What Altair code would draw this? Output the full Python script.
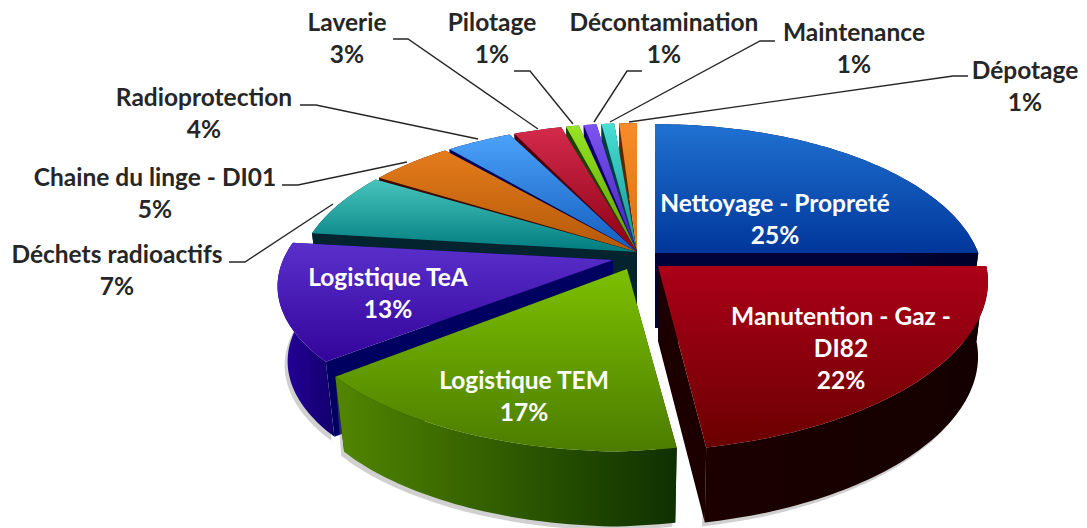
import math
import altair as alt
import pandas as pd

# ---- chart values ----
categories = ["Nettoyage - Propreté", "Manutention - Gaz - DI82", "Logistique TEM", "Logistique TeA",
              "Déchets radioactifs", "Chaine du linge - DI01", "Radioprotection", "Laverie",
              "Pilotage", "Décontamination", "Maintenance", "Dépotage"]
shares = [25, 22, 17, 13, 7, 5, 4, 3, 1, 1, 1, 1]

# ---- styling / layout ----
label_lines = [["Nettoyage - Propreté"], ["Manutention - Gaz -", "DI82"], ["Logistique TEM"], ["Logistique TeA"],
               ["Déchets radioactifs"], ["Chaine du linge - DI01"], ["Radioprotection"], ["Laverie"],
               ["Pilotage"], ["Décontamination"], ["Maintenance"], ["Dépotage"]]
label_pos = [(775, 205), (841, 318), (524, 382), (388, 279), (117, 256), (155, 179), (204, 99), (347, 24),
             (492, 24), (664, 24), (854, 34), (1025, 72)]
label_col = ["white"] * 4 + ["#262626"] * 8
top_cols = [("#1F72D2", "#00369A"), ("#AC0018", "#6A0000"), ("#7CC000", "#4C7C00"), ("#5A30CC", "#32049A"),
            ("#48C4BC", "#007C80"), ("#E47C1C", "#B45808"), ("#4CA2FA", "#125CBC"), ("#D42A4C", "#8C0014"),
            ("#96E424", "#5C9C00"), ("#7C54F4", "#4020B0"), ("#48E0D4", "#108C90"), ("#F88C28", "#D87010")]
wall_cols = [("#00033C", "#00022C"), ("#1C0000", "#140000"), ("#528600", "#0E3000"), ("#26009E", "#12006C"),
             ("#03242E", "#03242E"), ("#3C0A00", "#3C0A00"), ("#00005E", "#00005E"), ("#4C0008", "#4C0008"),
             ("#1C4000", "#1C4000"), ("#10006A", "#10006A"), ("#003C40", "#003C40"), ("#5A2800", "#5A2800")]
cut_cols = ["#00023A", "#1C0000", "#0E3000", "#000060", "#03242E", "#3C0A00", "#00005E", "#4C0008",
            "#1C4000", "#10006A", "#003C40", "#5A2800"]
# slice centre (x, y), width scale, height scale, end-angle trim in degrees
geom = [(655, 253, .965, 1, 0), (658, 266, .98, 1, 0), (627, 269, 1, .985, 0), (613, 260, .985, .93, 0)] + \
       [(637, 252, 1, 1, 1.0)] * 7 + [(637, 252, 1, 1, 0)]
leaders = [None, None, None, None,
           [(229, 262), (245, 262), (333, 204)], [(282, 185), (298, 185), (407, 162)],
           [(300, 105), (316, 105), (478, 139)], [(393, 39), (408, 39), (538, 129)],
           [(514, 71), (530, 71), (573, 124)], [(642, 71), (627, 71), (594, 122)],
           [(775, 41), (760, 41), (610, 122)], [(968, 76), (953, 76), (629, 122)]]
A, B, P, SKEW, DEPTH, SHRINK = 335, 152, .18, 27, 75, .97

X = alt.X("x:Q", axis=None, scale=alt.Scale(domain=[8, 1079], nice=False, zero=False))
Y = alt.Y("y:Q", axis=None, scale=alt.Scale(domain=[528, 8], nice=False, zero=False))


def project(deg, cx, cy, k, ky):
    u, v = math.sin(math.radians(deg)), math.cos(math.radians(deg))
    w = 1 + P * v
    skew = SKEW * min(v, 0) if u > 0 else 0
    return (cx + k * A * u / w + skew, cy - ky * B * v / w)


def lower(pt, cx):
    return (cx + SHRINK * (pt[0] - cx), pt[1] + DEPTH)


def grad(pair, horizontal=False):
    return alt.Gradient(gradient="linear",
                        stops=[alt.GradientStop(color=pair[0], offset=0), alt.GradientStop(color=pair[1], offset=1)],
                        x1=0, y1=0, x2=1 if horizontal else 0, y2=0 if horizontal else 1)


def polygon(points, fill, opacity=1):
    df = pd.DataFrame({"x": [p[0] for p in points], "y": [p[1] for p in points], "o": range(len(points))})
    return alt.Chart(df).mark_line(fill=fill, stroke=None, strokeWidth=0, clip=True, opacity=opacity).encode(
        x=X, y=Y, order=alt.Order("o:Q"))


cum = [sum(shares[:i]) for i in range(len(shares))]
layers = []
for i in [11, 10, 9, 8, 7, 6, 5, 4, 3, 0, 1, 2]:
    cx, cy, k, ky, trim = geom[i]
    a0 = cum[i] * 3.6
    a1 = (cum[i] + shares[i]) * 3.6 - trim
    n = max(6, int(shares[i] * 3))
    arc = [project(a0 + (a1 - a0) * j / n, cx, cy, k, ky) for j in range(n + 1)]
    apex = (cx, cy)
    low = [lower(p, cx) for p in arc]
    if i in (1, 2, 3):
        layers.append(polygon(arc + [(p[0] - 3, p[1] + 4) for p in low[::-1]], "#777777", .35))
    for e, le in ((arc[-1], low[-1]), (arc[0], low[0])):
        layers.append(polygon([apex, e, le, lower(apex, cx)], cut_cols[i]))
    layers.append(polygon(arc + low[::-1], grad(wall_cols[i], horizontal=True)))
    layers.append(polygon([apex] + arc, grad(top_cols[i])))

# leader lines
for pts in leaders:
    if pts:
        df = pd.DataFrame({"x": [p[0] for p in pts], "y": [p[1] for p in pts], "o": range(len(pts))})
        layers.append(alt.Chart(df).mark_line(color="#262626", strokeWidth=1.4).encode(
            x=X, y=Y, order=alt.Order("o:Q")))

# labels
rows = []
for i, lines in enumerate(label_lines):
    x0, y0 = label_pos[i]
    for j, t in enumerate(lines + [f"{shares[i]}%"]):
        rows.append({"x": x0, "y": y0 + 32 * j, "t": t, "c": label_col[i]})
layers.append(alt.Chart(pd.DataFrame(rows)).mark_text(
    font="Lato", fontWeight="bold", fontSize=24.5, align="center", baseline="middle").encode(
    x=X, y=Y, text="t:N", color=alt.Color("c:N", scale=None)))

chart = alt.layer(*layers).properties(width=1071, height=520, padding=0).configure_view(stroke=None)
chart.save("out.html", embed_options={"renderer": "svg", "actions": False})
